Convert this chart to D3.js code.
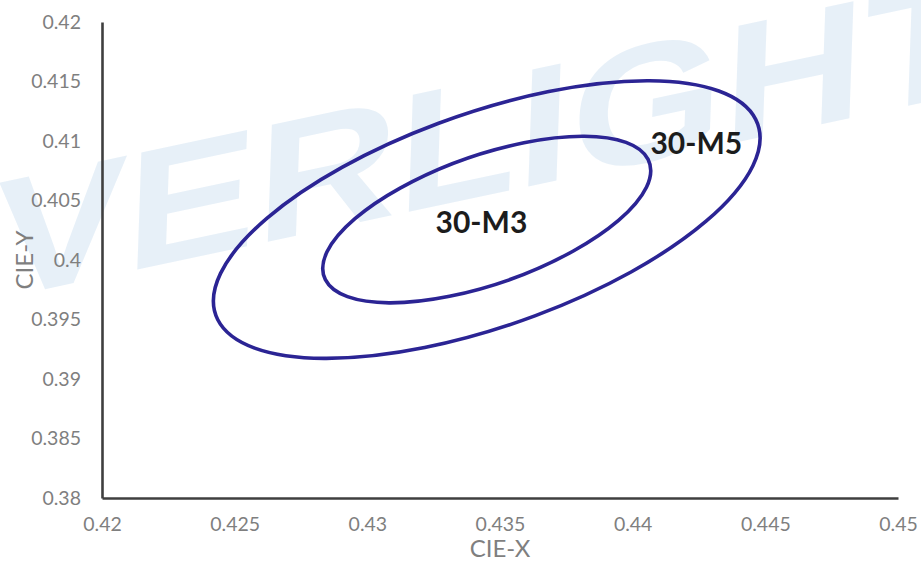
<!DOCTYPE html>
<html>
<head>
<meta charset="utf-8">
<script src="https://cdn.jsdelivr.net/npm/d3@7"></script>
<style>
  html, body { margin: 0; padding: 0; background: #ffffff; }
  svg { display: block; }
</style>
</head>
<body>
<svg id="chart" width="921" height="562"></svg>
<script>
// ---- data ----
const ellipseNames = ["30-M3", "30-M5"];
const macAdamSteps = [3, 5];
const centerX = [0.4345, 0.4345];
const centerY = [0.4034, 0.4034];
const semiMajor = [0.00834, 0.0139];
const semiMinor = [0.0042, 0.0070];
const rotationDeg = [51, 51];
const labelX = [0.4343, 0.4424];
const labelY = [0.4023, 0.4089];
const xTicks = [0.42, 0.425, 0.43, 0.435, 0.44, 0.445, 0.45];
const yTicks = [0.38, 0.385, 0.39, 0.395, 0.4, 0.405, 0.41, 0.415, 0.42];
const xTitle = "CIE-X";
const yTitle = "CIE-Y";
const watermarkText = "VERLIGHT";

// ---- layout ----
const svg = d3.select("#chart");
const x = d3.scaleLinear().domain([0.42, 0.45]).range([102, 898]);
const y = d3.scaleLinear().domain([0.38, 0.42]).range([498, 22]);

const tickFont = "Lato, 'Open Sans', sans-serif";

// watermark (behind the marks, pale)
svg.append("text")
  .attr("transform", "translate(-6,300) rotate(-12) skewX(-14)")
  .attr("font-family", "'Liberation Sans', Arial, sans-serif")
  .attr("font-weight", "bold")
  .attr("font-size", 165)
  .attr("textLength", 1010)
  .attr("lengthAdjust", "spacingAndGlyphs")
  .attr("fill", "#3a80c8")
  .attr("fill-opacity", 0.12)
  .text(watermarkText);

// x axis
const xAxis = svg.append("g")
  .attr("transform", `translate(0,${y(0.38)})`)
  .call(d3.axisBottom(x).tickValues(xTicks).tickSize(0).tickPadding(19)
    .tickFormat(d => d3.format("")(+d.toFixed(3))));
xAxis.select(".domain").attr("stroke", "#3f3f3f").attr("stroke-width", 2.6);
xAxis.selectAll("text").attr("font-family", tickFont).attr("font-size", 19.5).attr("fill", "#7f7f7f");

// y axis
const yAxis = svg.append("g")
  .attr("transform", `translate(${x(0.42)},0)`)
  .call(d3.axisLeft(y).tickValues(yTicks).tickSize(0).tickPadding(21)
    .tickFormat(d => d3.format("")(+d.toFixed(3))));
yAxis.select(".domain").attr("stroke", "#3f3f3f").attr("stroke-width", 2.6);
yAxis.selectAll("text").attr("font-family", tickFont).attr("font-size", 19.5).attr("fill", "#7f7f7f");

// axis titles
svg.append("text")
  .attr("x", (x(0.42) + x(0.45)) / 2)
  .attr("y", 557)
  .attr("text-anchor", "middle")
  .attr("font-family", tickFont).attr("font-size", 24).attr("fill", "#7f7f7f")
  .text(xTitle);
svg.append("text")
  .attr("transform", `translate(33,${(y(0.38) + y(0.42)) / 2}) rotate(-90)`)
  .attr("text-anchor", "middle")
  .attr("font-family", tickFont).attr("font-size", 24).attr("fill", "#7f7f7f")
  .text(yTitle);

// ellipses: unit circle mapped through the scales with an affine matrix
const ellipses = ellipseNames.map((name, i) => ({
  name, steps: macAdamSteps[i], cx: centerX[i], cy: centerY[i],
  a: semiMajor[i], b: semiMinor[i], theta: rotationDeg[i] * Math.PI / 180,
  lx: labelX[i], ly: labelY[i]
}));

svg.append("g").selectAll("circle")
  .data(ellipses)
  .join("circle")
  .attr("r", 1)
  .attr("fill", "none")
  .attr("stroke", "#2b2494")
  .attr("stroke-width", 3.6)
  .attr("vector-effect", "non-scaling-stroke")
  .attr("transform", d => {
    const sx = (x(d.cx + 0.001) - x(d.cx)) / 0.001;
    const sy = (y(d.cy + 0.001) - y(d.cy)) / 0.001;
    const c = Math.cos(d.theta), s = Math.sin(d.theta);
    const A = sx * d.a * c, B = sy * d.a * s;
    const C = -sx * d.b * s, D = sy * d.b * c;
    return `matrix(${A},${B},${C},${D},${x(d.cx)},${y(d.cy)})`;
  });

// labels
svg.append("g").selectAll("text")
  .data(ellipses)
  .join("text")
  .attr("x", d => x(d.lx))
  .attr("y", d => y(d.ly))
  .attr("text-anchor", "middle")
  .attr("font-family", tickFont)
  .attr("font-weight", "bold")
  .attr("font-size", 30)
  .attr("fill", "#1c1c1c")
  .text(d => d.name);
</script>
</body>
</html>
